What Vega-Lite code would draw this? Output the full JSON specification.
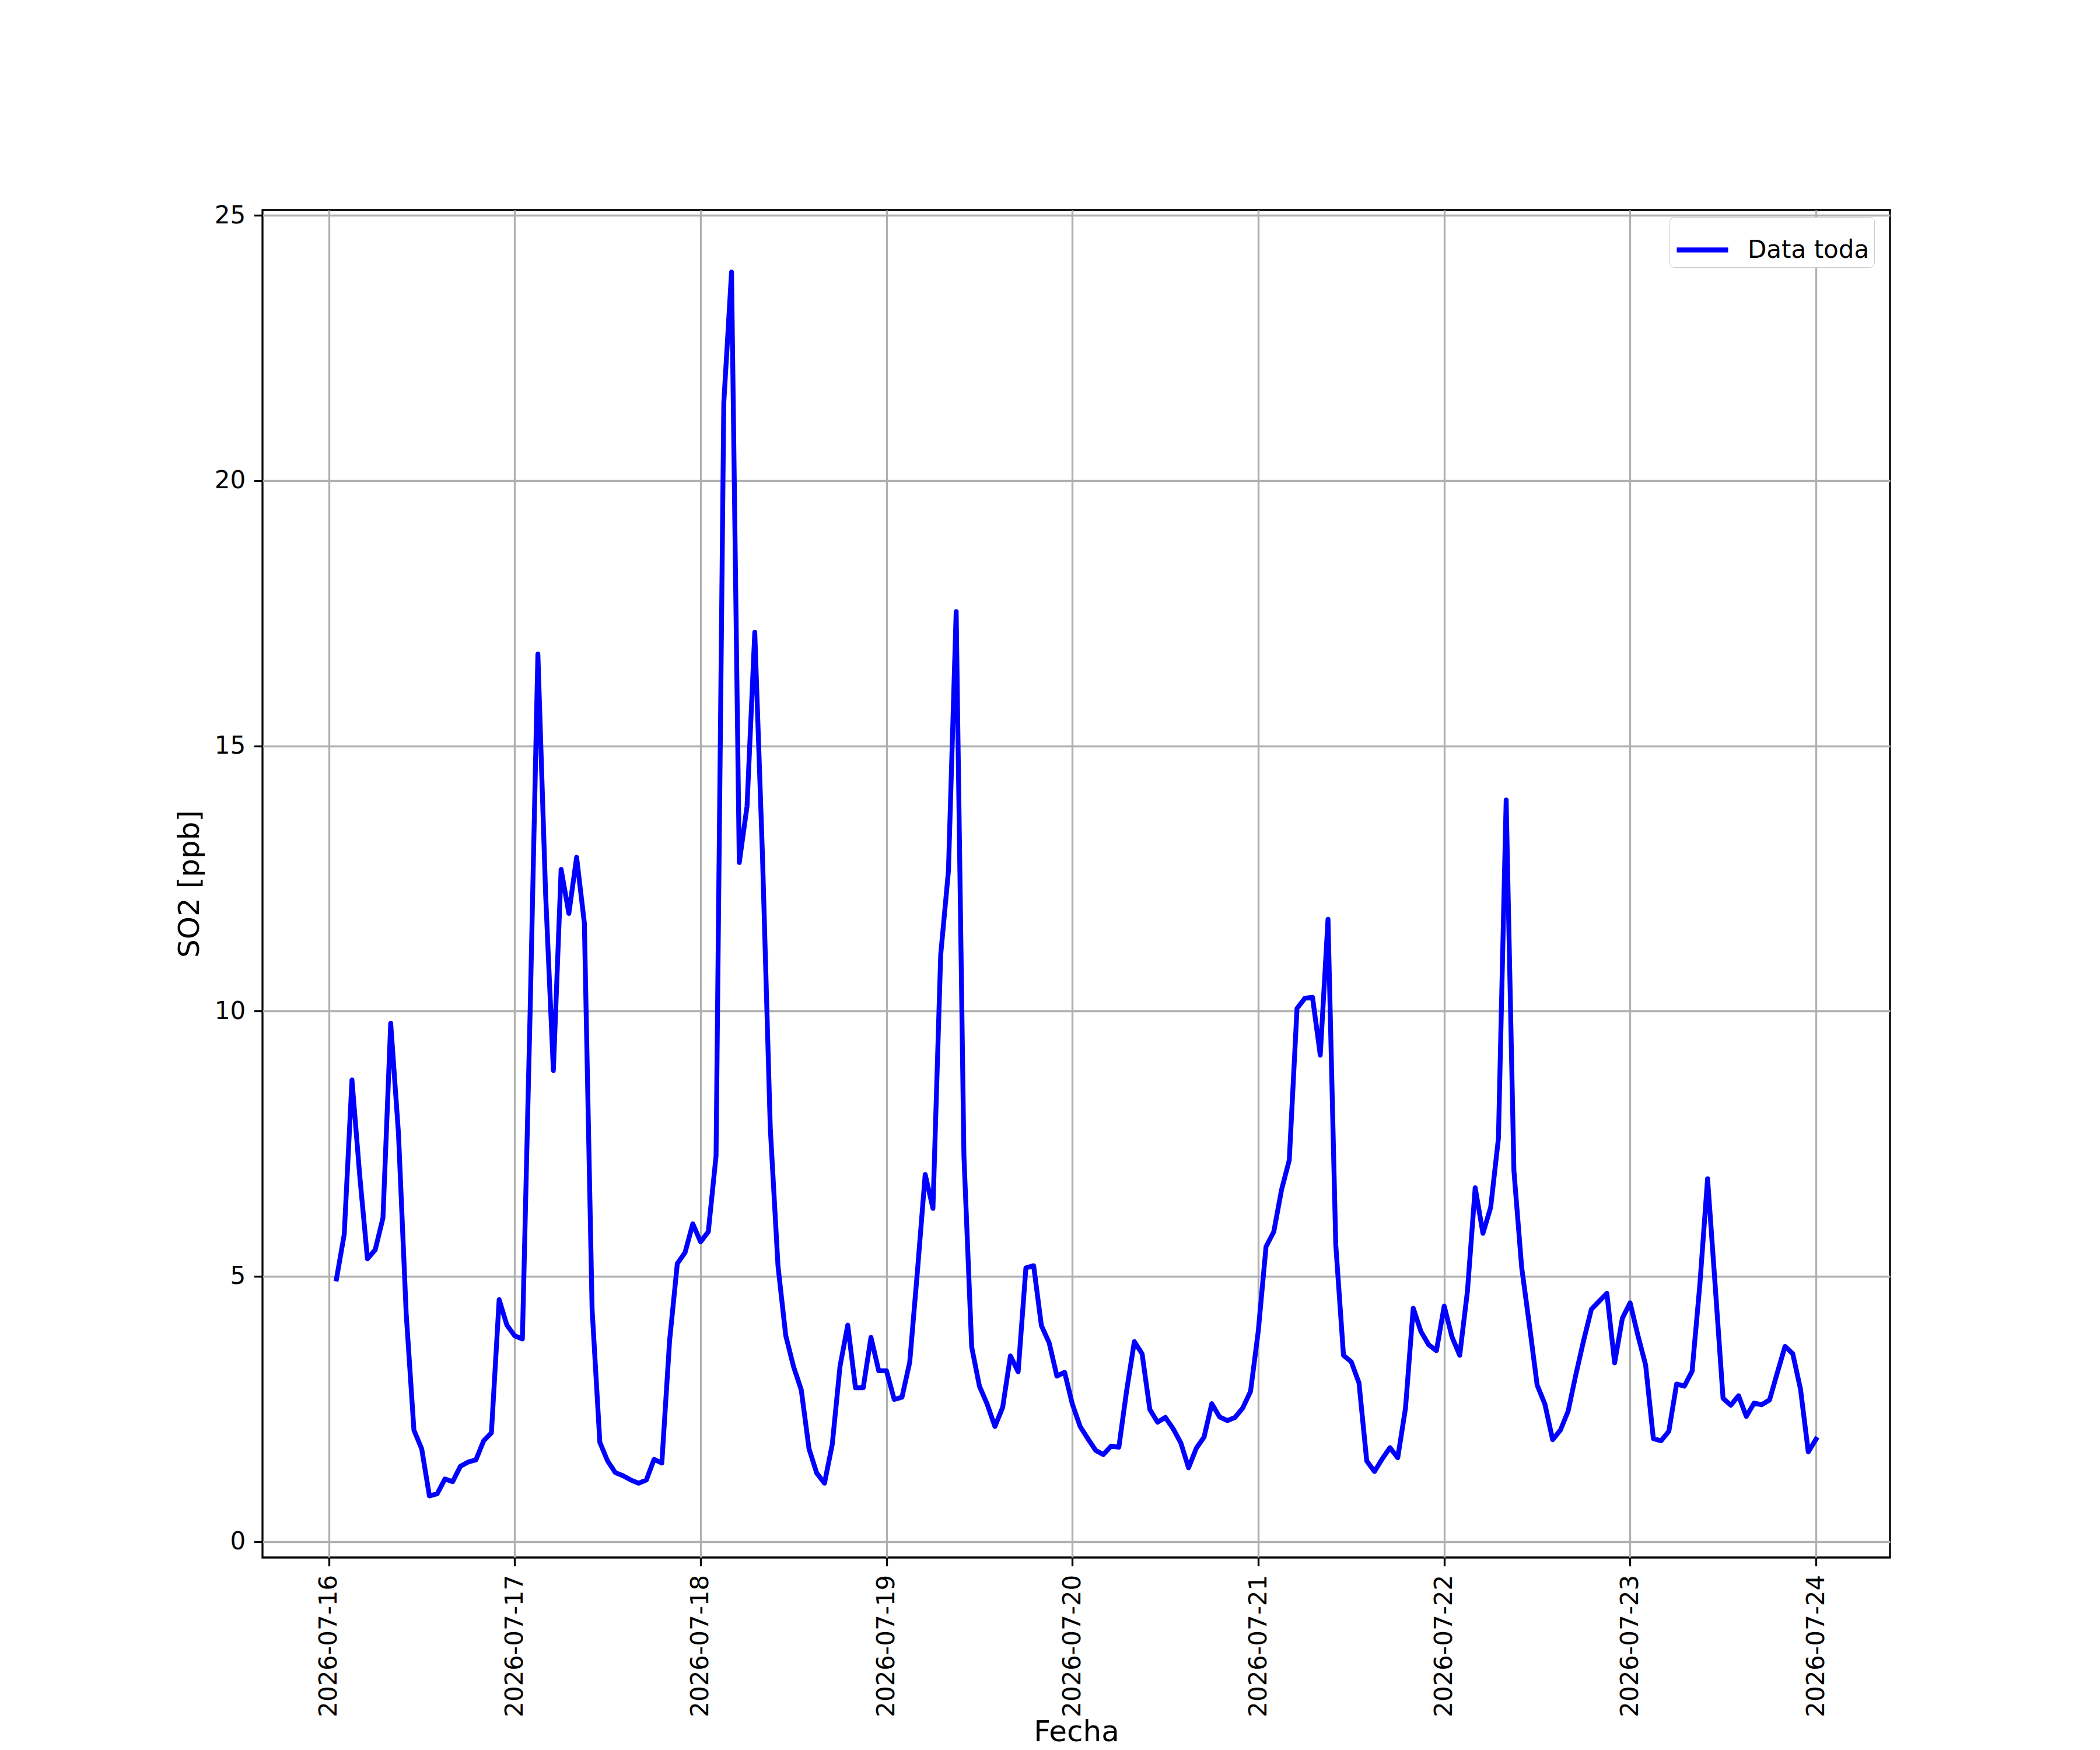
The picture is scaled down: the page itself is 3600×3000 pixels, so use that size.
{
  "$schema": "https://vega.github.io/schema/vega-lite/v6.json",
  "description": "SO2 hourly concentration, 2026-07-16 to 2026-07-24",
  "width": 2790,
  "height": 2310,
  "autosize": {"type": "none"},
  "padding": {"left": 450, "top": 360, "right": 360, "bottom": 330},
  "background": "white",
  "config": {
    "font": "DejaVu Sans",
    "view": {"stroke": "black", "strokeWidth": 3.3},
    "axis": {
      "labelFontSize": 42,
      "titleFontSize": 50,
      "titleFontWeight": "normal",
      "labelColor": "black",
      "titleColor": "black",
      "labelLimit": 0,
      "tickColor": "black",
      "tickSize": 14.6,
      "tickWidth": 3.3,
      "gridColor": "#b0b0b0",
      "gridWidth": 3.3,
      "domain": false,
      "labelPadding": 14.6,
      "titlePadding": 17
    },
    "legend": {
      "orient": "none",
      "legendX": 2412,
      "legendY": 12,
      "symbolType": "stroke",
      "symbolSize": 7744,
      "symbolStrokeWidth": 8.3,
      "labelFontSize": 42,
      "labelColor": "black",
      "labelLimit": 0,
      "labelOffset": 29,
      "strokeColor": "#cccccc",
      "fillColor": "white",
      "cornerRadius": 8,
      "padding": 8
    }
  },
  "data": {
    "values": [
      {"t": "2026-07-16T01:00:00", "v": 4.95},
      {"t": "2026-07-16T02:00:00", "v": 5.79},
      {"t": "2026-07-16T03:00:00", "v": 8.7},
      {"t": "2026-07-16T04:00:00", "v": 6.9},
      {"t": "2026-07-16T05:00:00", "v": 5.33},
      {"t": "2026-07-16T06:00:00", "v": 5.5},
      {"t": "2026-07-16T07:00:00", "v": 6.1},
      {"t": "2026-07-16T08:00:00", "v": 9.77},
      {"t": "2026-07-16T09:00:00", "v": 7.7},
      {"t": "2026-07-16T10:00:00", "v": 4.3},
      {"t": "2026-07-16T11:00:00", "v": 2.1},
      {"t": "2026-07-16T12:00:00", "v": 1.75},
      {"t": "2026-07-16T13:00:00", "v": 0.86},
      {"t": "2026-07-16T14:00:00", "v": 0.9},
      {"t": "2026-07-16T15:00:00", "v": 1.18},
      {"t": "2026-07-16T16:00:00", "v": 1.13},
      {"t": "2026-07-16T17:00:00", "v": 1.42},
      {"t": "2026-07-16T18:00:00", "v": 1.5},
      {"t": "2026-07-16T19:00:00", "v": 1.54},
      {"t": "2026-07-16T20:00:00", "v": 1.9},
      {"t": "2026-07-16T21:00:00", "v": 2.05},
      {"t": "2026-07-16T22:00:00", "v": 4.56},
      {"t": "2026-07-16T23:00:00", "v": 4.08},
      {"t": "2026-07-17T00:00:00", "v": 3.88},
      {"t": "2026-07-17T01:00:00", "v": 3.82},
      {"t": "2026-07-17T02:00:00", "v": 10.0},
      {"t": "2026-07-17T03:00:00", "v": 16.73},
      {"t": "2026-07-17T04:00:00", "v": 12.2},
      {"t": "2026-07-17T05:00:00", "v": 8.88},
      {"t": "2026-07-17T06:00:00", "v": 12.67},
      {"t": "2026-07-17T07:00:00", "v": 11.84},
      {"t": "2026-07-17T08:00:00", "v": 12.9},
      {"t": "2026-07-17T09:00:00", "v": 11.66},
      {"t": "2026-07-17T10:00:00", "v": 4.38},
      {"t": "2026-07-17T11:00:00", "v": 1.87},
      {"t": "2026-07-17T12:00:00", "v": 1.52},
      {"t": "2026-07-17T13:00:00", "v": 1.3},
      {"t": "2026-07-17T14:00:00", "v": 1.24},
      {"t": "2026-07-17T15:00:00", "v": 1.16},
      {"t": "2026-07-17T16:00:00", "v": 1.1},
      {"t": "2026-07-17T17:00:00", "v": 1.16},
      {"t": "2026-07-17T18:00:00", "v": 1.55},
      {"t": "2026-07-17T19:00:00", "v": 1.48},
      {"t": "2026-07-17T20:00:00", "v": 3.78},
      {"t": "2026-07-17T21:00:00", "v": 5.24},
      {"t": "2026-07-17T22:00:00", "v": 5.45},
      {"t": "2026-07-17T23:00:00", "v": 5.99},
      {"t": "2026-07-18T00:00:00", "v": 5.65},
      {"t": "2026-07-18T01:00:00", "v": 5.84},
      {"t": "2026-07-18T02:00:00", "v": 7.27},
      {"t": "2026-07-18T03:00:00", "v": 21.47},
      {"t": "2026-07-18T04:00:00", "v": 23.93},
      {"t": "2026-07-18T05:00:00", "v": 12.8},
      {"t": "2026-07-18T06:00:00", "v": 13.86},
      {"t": "2026-07-18T07:00:00", "v": 17.14},
      {"t": "2026-07-18T08:00:00", "v": 12.9},
      {"t": "2026-07-18T09:00:00", "v": 7.8},
      {"t": "2026-07-18T10:00:00", "v": 5.19},
      {"t": "2026-07-18T11:00:00", "v": 3.88},
      {"t": "2026-07-18T12:00:00", "v": 3.3},
      {"t": "2026-07-18T13:00:00", "v": 2.86},
      {"t": "2026-07-18T14:00:00", "v": 1.75},
      {"t": "2026-07-18T15:00:00", "v": 1.29},
      {"t": "2026-07-18T16:00:00", "v": 1.1},
      {"t": "2026-07-18T17:00:00", "v": 1.83},
      {"t": "2026-07-18T18:00:00", "v": 3.3},
      {"t": "2026-07-18T19:00:00", "v": 4.08},
      {"t": "2026-07-18T20:00:00", "v": 2.9},
      {"t": "2026-07-18T21:00:00", "v": 2.9},
      {"t": "2026-07-18T22:00:00", "v": 3.85},
      {"t": "2026-07-18T23:00:00", "v": 3.22},
      {"t": "2026-07-19T00:00:00", "v": 3.22},
      {"t": "2026-07-19T01:00:00", "v": 2.68},
      {"t": "2026-07-19T02:00:00", "v": 2.72},
      {"t": "2026-07-19T03:00:00", "v": 3.38},
      {"t": "2026-07-19T04:00:00", "v": 5.1},
      {"t": "2026-07-19T05:00:00", "v": 6.92},
      {"t": "2026-07-19T06:00:00", "v": 6.28},
      {"t": "2026-07-19T07:00:00", "v": 11.06},
      {"t": "2026-07-19T08:00:00", "v": 12.64},
      {"t": "2026-07-19T09:00:00", "v": 17.53},
      {"t": "2026-07-19T10:00:00", "v": 7.27},
      {"t": "2026-07-19T11:00:00", "v": 3.67},
      {"t": "2026-07-19T12:00:00", "v": 2.93},
      {"t": "2026-07-19T13:00:00", "v": 2.59},
      {"t": "2026-07-19T14:00:00", "v": 2.17},
      {"t": "2026-07-19T15:00:00", "v": 2.53},
      {"t": "2026-07-19T16:00:00", "v": 3.5},
      {"t": "2026-07-19T17:00:00", "v": 3.2},
      {"t": "2026-07-19T18:00:00", "v": 5.16},
      {"t": "2026-07-19T19:00:00", "v": 5.2},
      {"t": "2026-07-19T20:00:00", "v": 4.07},
      {"t": "2026-07-19T21:00:00", "v": 3.75},
      {"t": "2026-07-19T22:00:00", "v": 3.12},
      {"t": "2026-07-19T23:00:00", "v": 3.19},
      {"t": "2026-07-20T00:00:00", "v": 2.59},
      {"t": "2026-07-20T01:00:00", "v": 2.17},
      {"t": "2026-07-20T02:00:00", "v": 1.94},
      {"t": "2026-07-20T03:00:00", "v": 1.72},
      {"t": "2026-07-20T04:00:00", "v": 1.64},
      {"t": "2026-07-20T05:00:00", "v": 1.8},
      {"t": "2026-07-20T06:00:00", "v": 1.78},
      {"t": "2026-07-20T07:00:00", "v": 2.84},
      {"t": "2026-07-20T08:00:00", "v": 3.77},
      {"t": "2026-07-20T09:00:00", "v": 3.54},
      {"t": "2026-07-20T10:00:00", "v": 2.49},
      {"t": "2026-07-20T11:00:00", "v": 2.25},
      {"t": "2026-07-20T12:00:00", "v": 2.34},
      {"t": "2026-07-20T13:00:00", "v": 2.13},
      {"t": "2026-07-20T14:00:00", "v": 1.86},
      {"t": "2026-07-20T15:00:00", "v": 1.39},
      {"t": "2026-07-20T16:00:00", "v": 1.76},
      {"t": "2026-07-20T17:00:00", "v": 1.97},
      {"t": "2026-07-20T18:00:00", "v": 2.6},
      {"t": "2026-07-20T19:00:00", "v": 2.35},
      {"t": "2026-07-20T20:00:00", "v": 2.28},
      {"t": "2026-07-20T21:00:00", "v": 2.34},
      {"t": "2026-07-20T22:00:00", "v": 2.52},
      {"t": "2026-07-20T23:00:00", "v": 2.83},
      {"t": "2026-07-21T00:00:00", "v": 3.97},
      {"t": "2026-07-21T01:00:00", "v": 5.56},
      {"t": "2026-07-21T02:00:00", "v": 5.84},
      {"t": "2026-07-21T03:00:00", "v": 6.63},
      {"t": "2026-07-21T04:00:00", "v": 7.19},
      {"t": "2026-07-21T05:00:00", "v": 10.05},
      {"t": "2026-07-21T06:00:00", "v": 10.24},
      {"t": "2026-07-21T07:00:00", "v": 10.26},
      {"t": "2026-07-21T08:00:00", "v": 9.17},
      {"t": "2026-07-21T09:00:00", "v": 11.73},
      {"t": "2026-07-21T10:00:00", "v": 5.6},
      {"t": "2026-07-21T11:00:00", "v": 3.51},
      {"t": "2026-07-21T12:00:00", "v": 3.39},
      {"t": "2026-07-21T13:00:00", "v": 2.99},
      {"t": "2026-07-21T14:00:00", "v": 1.52},
      {"t": "2026-07-21T15:00:00", "v": 1.32},
      {"t": "2026-07-21T16:00:00", "v": 1.56},
      {"t": "2026-07-21T17:00:00", "v": 1.77},
      {"t": "2026-07-21T18:00:00", "v": 1.58},
      {"t": "2026-07-21T19:00:00", "v": 2.51},
      {"t": "2026-07-21T20:00:00", "v": 4.4},
      {"t": "2026-07-21T21:00:00", "v": 3.96},
      {"t": "2026-07-21T22:00:00", "v": 3.71},
      {"t": "2026-07-21T23:00:00", "v": 3.6},
      {"t": "2026-07-22T00:00:00", "v": 4.44},
      {"t": "2026-07-22T01:00:00", "v": 3.86},
      {"t": "2026-07-22T02:00:00", "v": 3.51},
      {"t": "2026-07-22T03:00:00", "v": 4.72},
      {"t": "2026-07-22T04:00:00", "v": 6.67},
      {"t": "2026-07-22T05:00:00", "v": 5.81},
      {"t": "2026-07-22T06:00:00", "v": 6.3},
      {"t": "2026-07-22T07:00:00", "v": 7.6},
      {"t": "2026-07-22T08:00:00", "v": 13.98},
      {"t": "2026-07-22T09:00:00", "v": 6.99},
      {"t": "2026-07-22T10:00:00", "v": 5.17},
      {"t": "2026-07-22T11:00:00", "v": 4.08},
      {"t": "2026-07-22T12:00:00", "v": 2.95},
      {"t": "2026-07-22T13:00:00", "v": 2.59},
      {"t": "2026-07-22T14:00:00", "v": 1.92},
      {"t": "2026-07-22T15:00:00", "v": 2.1},
      {"t": "2026-07-22T16:00:00", "v": 2.46},
      {"t": "2026-07-22T17:00:00", "v": 3.15},
      {"t": "2026-07-22T18:00:00", "v": 3.79},
      {"t": "2026-07-22T19:00:00", "v": 4.38},
      {"t": "2026-07-22T20:00:00", "v": 4.53},
      {"t": "2026-07-22T21:00:00", "v": 4.68},
      {"t": "2026-07-22T22:00:00", "v": 3.37},
      {"t": "2026-07-22T23:00:00", "v": 4.21},
      {"t": "2026-07-23T00:00:00", "v": 4.5},
      {"t": "2026-07-23T01:00:00", "v": 3.89},
      {"t": "2026-07-23T02:00:00", "v": 3.33},
      {"t": "2026-07-23T03:00:00", "v": 1.94},
      {"t": "2026-07-23T04:00:00", "v": 1.9},
      {"t": "2026-07-23T05:00:00", "v": 2.08},
      {"t": "2026-07-23T06:00:00", "v": 2.97},
      {"t": "2026-07-23T07:00:00", "v": 2.93},
      {"t": "2026-07-23T08:00:00", "v": 3.21},
      {"t": "2026-07-23T09:00:00", "v": 4.84},
      {"t": "2026-07-23T10:00:00", "v": 6.84},
      {"t": "2026-07-23T11:00:00", "v": 4.79},
      {"t": "2026-07-23T12:00:00", "v": 2.7},
      {"t": "2026-07-23T13:00:00", "v": 2.57},
      {"t": "2026-07-23T14:00:00", "v": 2.75},
      {"t": "2026-07-23T15:00:00", "v": 2.36},
      {"t": "2026-07-23T16:00:00", "v": 2.61},
      {"t": "2026-07-23T17:00:00", "v": 2.58},
      {"t": "2026-07-23T18:00:00", "v": 2.67},
      {"t": "2026-07-23T19:00:00", "v": 3.18},
      {"t": "2026-07-23T20:00:00", "v": 3.68},
      {"t": "2026-07-23T21:00:00", "v": 3.54},
      {"t": "2026-07-23T22:00:00", "v": 2.87},
      {"t": "2026-07-23T23:00:00", "v": 1.69},
      {"t": "2026-07-24T00:00:00", "v": 1.93}
    ]
  },
  "mark": {"type": "line", "strokeWidth": 8.3, "strokeJoin": "round", "strokeCap": "square"},
  "encoding": {
    "x": {
      "field": "t",
      "type": "temporal",
      "title": "Fecha",
      "scale": {
        "domain": ["2026-07-15T15:27:00", "2026-07-24T09:33:00"],
        "nice": false
      },
      "axis": {
        "format": "%Y-%m-%d",
        "tickCount": {"interval": "day", "step": 1},
        "labelAngle": 270,
        "grid": true,
        "titleY": 314,
        "titleBaseline": "alphabetic"
      }
    },
    "y": {
      "field": "v",
      "type": "quantitative",
      "title": "SO2 [ppb]",
      "scale": {"domain": [-0.3, 25.1], "nice": false, "zero": false},
      "axis": {"values": [0, 5, 10, 15, 20, 25], "grid": true}
    },
    "color": {
      "datum": "Data toda",
      "type": "nominal",
      "scale": {"range": ["#0000ff"]},
      "legend": {"title": null}
    }
  }
}
